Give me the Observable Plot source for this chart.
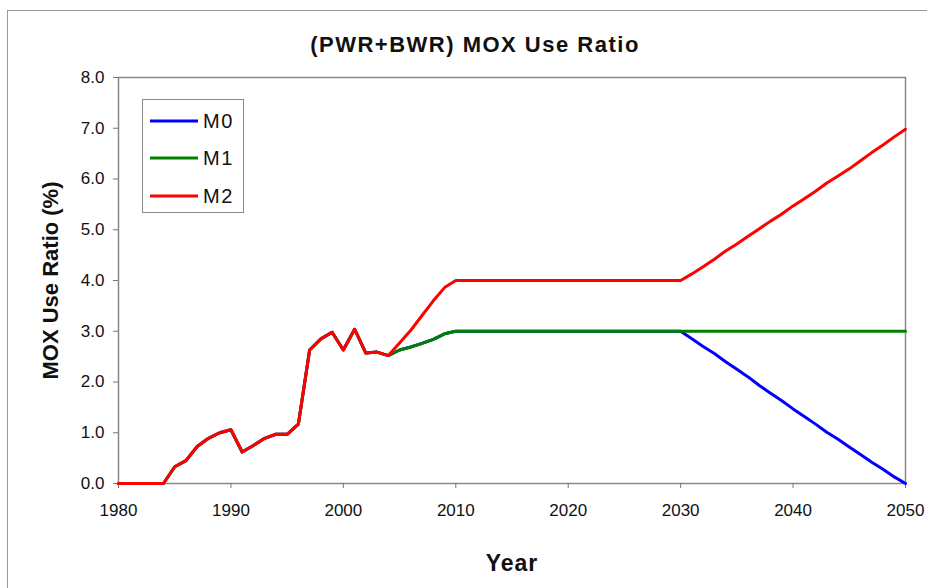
<!DOCTYPE html>
<html><head><meta charset="utf-8">
<script src="https://cdn.jsdelivr.net/npm/d3@7"></script>
<script src="https://cdn.jsdelivr.net/npm/@observablehq/plot@0.6"></script>
<style>
body{margin:0;background:#fff;font-family:"Liberation Sans",Arial,sans-serif;}
#wrap{position:relative;width:927px;height:588px;overflow:hidden;}
#border{position:absolute;left:7px;top:10px;width:1000px;height:700px;border-left:1px solid #999;border-top:1px solid #999;}
#chart{position:absolute;left:0;top:0;}
#legend{position:absolute;left:142px;top:99px;width:102px;height:114px;border:1px solid #888;background:#fff;box-sizing:border-box;}
.item{position:absolute;left:7px;height:24px;display:flex;align-items:center;font-size:20px;color:#111;letter-spacing:1.5px;}
.item svg{margin-right:5px;}
</style></head>
<body><div id="wrap"><div id="border"></div><div id="chart"></div><div id="legend"></div></div>
<script>
const title = "(PWR+BWR) MOX Use Ratio";
const xLabel = "Year";
const yLabel = "MOX Use Ratio (%)";
const seriesNames = ["M0", "M1", "M2"];
const seriesColors = ["#0000ff", "#008000", "#ff0000"];
const xTicks = [1980, 1990, 2000, 2010, 2020, 2030, 2040, 2050];
const yTicks = [0, 1, 2, 3, 4, 5, 6, 7, 8];
const years = [1980,1981,1982,1983,1984,1985,1986,1987,1988,1989,1990,1991,1992,1993,1994,1995,1996,1997,1998,1999,
  2000,2001,2002,2003,2004,2005,2006,2007,2008,2009,2010,2011,2012,2013,2014,2015,2016,2017,2018,2019,
  2020,2021,2022,2023,2024,2025,2026,2027,2028,2029,2030,2031,2032,2033,2034,2035,2036,2037,2038,2039,
  2040,2041,2042,2043,2044,2045,2046,2047,2048,2049,2050];
const m0 = [0,0,0,0,0,0.33,0.45,0.73,0.89,1.0,1.06,0.62,0.75,0.89,0.97,0.97,1.17,2.63,2.85,2.98,
  2.63,3.04,2.57,2.59,2.52,2.63,2.69,2.76,2.84,2.95,3.0,3.0,3.0,3.0,3.0,3.0,3.0,3.0,3.0,3.0,
  3.0,3.0,3.0,3.0,3.0,3.0,3.0,3.0,3.0,3.0,3.0,2.85,2.7,2.56,2.4,2.25,2.1,1.93,1.78,1.63,
  1.47,1.32,1.17,1.01,0.87,0.72,0.57,0.42,0.28,0.13,0.0];
const m1 = [0,0,0,0,0,0.33,0.45,0.73,0.89,1.0,1.06,0.62,0.75,0.89,0.97,0.97,1.17,2.63,2.85,2.98,
  2.63,3.04,2.57,2.59,2.52,2.63,2.69,2.76,2.84,2.95,3.0,3.0,3.0,3.0,3.0,3.0,3.0,3.0,3.0,3.0,
  3.0,3.0,3.0,3.0,3.0,3.0,3.0,3.0,3.0,3.0,3.0,3.0,3.0,3.0,3.0,3.0,3.0,3.0,3.0,3.0,
  3.0,3.0,3.0,3.0,3.0,3.0,3.0,3.0,3.0,3.0,3.0];
const m2 = [0,0,0,0,0,0.33,0.45,0.73,0.89,1.0,1.06,0.62,0.75,0.89,0.97,0.97,1.17,2.63,2.85,2.98,
  2.63,3.04,2.57,2.59,2.52,2.77,3.02,3.31,3.6,3.86,4.0,4.0,4.0,4.0,4.0,4.0,4.0,4.0,4.0,4.0,
  4.0,4.0,4.0,4.0,4.0,4.0,4.0,4.0,4.0,4.0,4.0,4.13,4.27,4.42,4.58,4.72,4.87,5.02,5.17,5.31,
  5.47,5.61,5.76,5.92,6.06,6.2,6.36,6.52,6.67,6.83,6.98];

const seriesValues = [m0, m1, m2];
const rows = seriesNames.flatMap((s, i) => years.map((y, j) => ({series: s, year: y, value: seriesValues[i][j]})));

const font = '"Liberation Sans", Arial, sans-serif';
const chart = Plot.plot({
  width: 927, height: 588,
  marginLeft: 118, marginRight: 22, marginTop: 77, marginBottom: 105,
  style: {fontFamily: font, background: "transparent", color: "#111", overflow: "visible"},
  x: {domain: [1980, 2050]},
  y: {domain: [0, 8]},
  color: {domain: seriesNames, range: seriesColors},
  marks: [
    Plot.frame({stroke: "#888", strokeWidth: 1.5}),
    Plot.axisX({ticks: xTicks, tickFormat: "d", tickSize: 5, tickPadding: 15, fontSize: 17, label: null, stroke: "#777"}),
    Plot.axisY({ticks: yTicks, tickFormat: ".1f", tickSize: 5, tickPadding: 9, fontSize: 17, label: null, stroke: "#777"}),
    Plot.line(rows, {x: "year", y: "value", z: "series", stroke: "series", strokeWidth: 3}),
    Plot.text([title], {frameAnchor: "top", lineAnchor: "middle", textAnchor: "middle", dy: -33, dx: -37, fontSize: 22, fontWeight: "bold", fill: "#111"}),
    Plot.text([xLabel], {frameAnchor: "bottom", lineAnchor: "middle", textAnchor: "middle", dy: 80, fontSize: 23, fontWeight: "bold", fill: "#111"}),
    Plot.text([yLabel], {frameAnchor: "left", lineAnchor: "middle", textAnchor: "middle", dx: -68, rotate: -90, fontSize: 22, fontWeight: "bold", fill: "#111"})
  ]
});
chart.querySelectorAll("text").forEach(t => {
  if (t.textContent === title) t.style.letterSpacing = "1.5px";
  if (t.textContent === xLabel) t.style.letterSpacing = "1px";
});
document.getElementById("chart").appendChild(chart);

const legend = document.getElementById("legend");
const rowTops = [9, 46, 84];
seriesNames.forEach((s, i) => {
  const d = document.createElement("div");
  d.className = "item";
  d.style.top = rowTops[i] + "px";
  d.innerHTML = `<svg width="48" height="6"><line x1="0" y1="3" x2="48" y2="3" stroke="${seriesColors[i]}" stroke-width="3"/></svg><span>${s}</span>`;
  legend.appendChild(d);
});
</script>
</body></html>
